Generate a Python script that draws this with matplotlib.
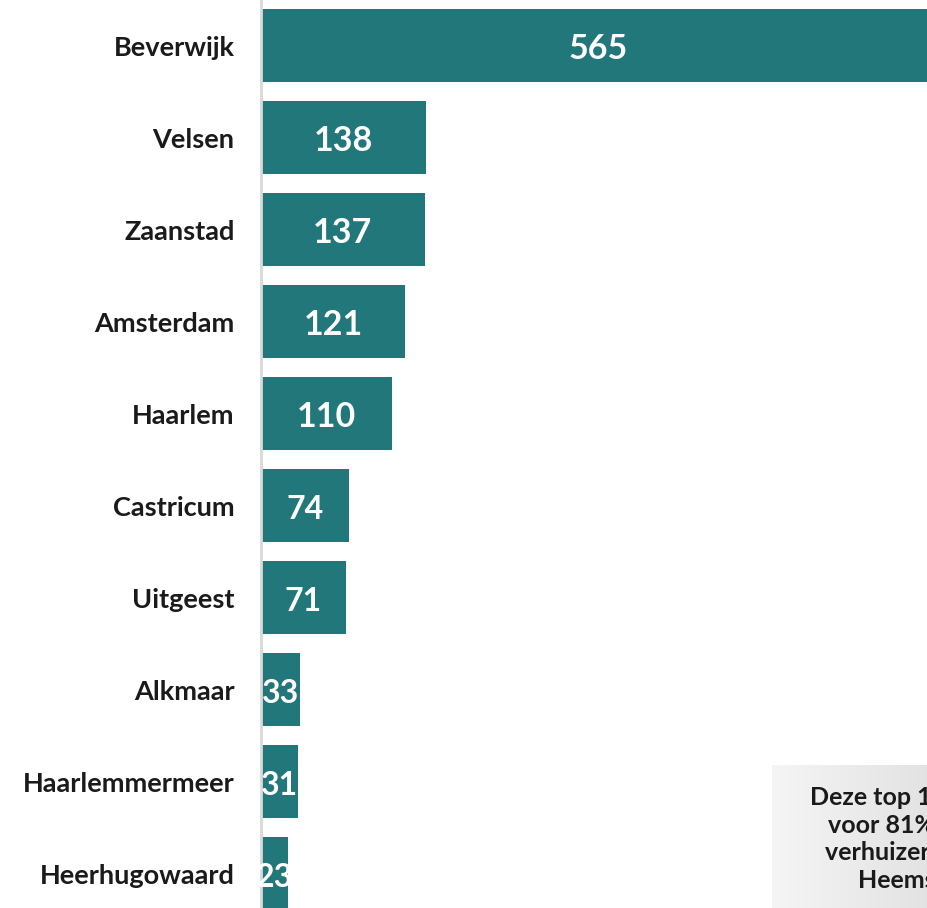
import numpy as np
import matplotlib
matplotlib.use("Agg")
import matplotlib.pyplot as plt

gemeenten = ["Beverwijk", "Velsen", "Zaanstad", "Amsterdam", "Haarlem",
             "Castricum", "Uitgeest", "Alkmaar", "Haarlemmermeer", "Heerhugowaard"]
verhuizingen = [565, 138, 137, 121, 110, 74, 71, 33, 31, 23]
notitie = "Deze top 10 is goed\nvoor 81% van de\nverhuizers vanuit\nHeemskerk"

bar_color = "#22777A"
plt.rcParams['font.family'] = ['Lato', 'DejaVu Sans']

W, H = 927, 908
fig = plt.figure(figsize=(W / 100, H / 100), dpi=100)
ax = fig.add_axes([261 / W, 0, 1 - 261 / W, 1])

y = np.arange(len(gemeenten))
ax.barh(y, verhuizingen, height=0.79, color=bar_color, left=0)
ax.set_xlim(0, 558)
ax.set_ylim((H - 45.5) / 92, -45.5 / 92)

for yi, v in zip(y, verhuizingen):
    size = 24.5 if v > 100 else 23
    ax.text(v / 2, yi + 0.04, str(v), ha="center", va="center",
            color="white", fontsize=size, fontweight="bold")

ax.set_yticks(y)
ax.set_yticklabels(gemeenten, fontsize=19.5, fontweight="bold", color="#1a1a1a")
ax.tick_params(axis="y", length=0, pad=19)
ax.set_xticks([])
for s in ["top", "right", "bottom"]:
    ax.spines[s].set_visible(False)
ax.spines["left"].set_color("#d9d9d9")
ax.spines["left"].set_linewidth(2)

# grijs kader met gradient rechtsonder
grad = np.linspace(0.96, 0.89, 256).reshape(1, -1)
gax = fig.add_axes([772 / W, 0, (W - 772) / W, (H - 765) / H])
gax.imshow(np.dstack([grad, grad, grad]) * np.ones((10, 1, 1)), aspect="auto",
           extent=[0, 1, 0, 1])
gax.set_axis_off()
fig.text(921 / W, 1 - 839 / H, notitie, ha="center", va="center",
         multialignment="center", fontsize=18, fontweight="bold",
         color="#1a1a1a", linespacing=1.25)

fig.savefig("out.png", dpi=100)
